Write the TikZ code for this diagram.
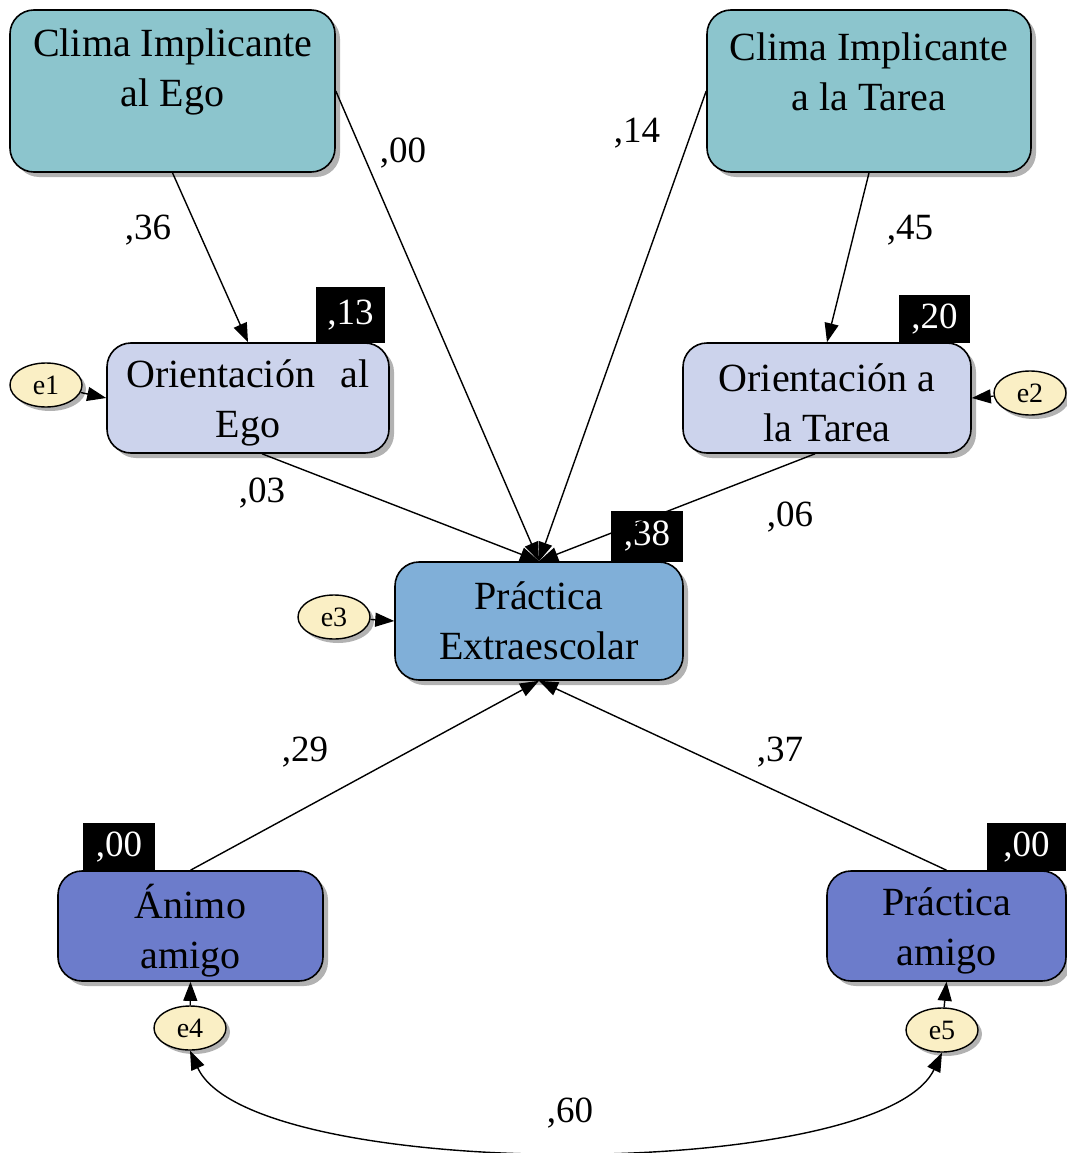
\documentclass[tikz,border=0pt]{standalone}
\usepackage{fontspec}
\setmainfont{Liberation Serif}
\usetikzlibrary{arrows.meta,shadows,calc,shapes.geometric}
\definecolor{clima}{HTML}{8CC5CD}
\definecolor{orient}{HTML}{CCD3EC}
\definecolor{pract}{HTML}{80AFD8}
\definecolor{amigo}{HTML}{6C7CCB}
\definecolor{errc}{HTML}{FAEFC5}
\tikzset{
  box/.style={draw=black, line width=1.6pt, rounded corners=24pt, inner sep=0pt,
    drop shadow={shadow xshift=5pt, shadow yshift=-5pt, fill=black!30, opacity=1}},
  txt/.style={align=center, inner sep=0pt, font=\fontsize{40}{50}\selectfont},
  coef/.style={inner sep=0pt, font=\fontsize{37}{40}\selectfont},
  r2/.style={fill=black, text=white, inner sep=0pt, font=\fontsize{37}{40}\selectfont},
  err/.style={draw=black, line width=1.4pt, ellipse, fill=errc, minimum width=72pt, minimum height=44pt, inner sep=0pt,
    font=\fontsize{28}{30}\selectfont,
    drop shadow={shadow xshift=4pt, shadow yshift=-4pt, fill=black!30, opacity=1}},
  tip/.tip={Triangle[length=19pt,width=14pt]},
  path/.style={line width=1.4pt, -tip},
}
\begin{document}
\begin{tikzpicture}[x=1pt,y=-1pt]
\useasboundingbox (0,0) rectangle (1066,1153);
% black R2 boxes (behind boxes)
\node[r2, minimum width=69pt, minimum height=56pt] (r13) at (350.5,315) {,13};
\node[r2, minimum width=71pt, minimum height=48pt] (r20) at (934.5,319) {,20};
\node[r2, minimum width=72pt, minimum height=51pt] (r38) at (647,536.5) {,38};
\node[r2, minimum width=72pt, minimum height=48pt] (r00a) at (119,847) {,00};
\node[r2, minimum width=79pt, minimum height=48pt] (r00b) at (1026.5,847) {,00};
% boxes
\node[box, fill=clima, minimum width=325pt, minimum height=162pt] (CE) at (172.5,91) {};
\node[box, fill=clima, minimum width=324pt, minimum height=162pt] (CT) at (869,91) {};
\node[box, fill=orient, minimum width=282pt, minimum height=110pt] (OE) at (248,398) {};
\node[box, fill=orient, minimum width=288pt, minimum height=110pt] (OT) at (827,398) {};
\node[box, fill=pract, minimum width=288pt, minimum height=118pt] (PE) at (539,621) {};
\node[box, fill=amigo, minimum width=265pt, minimum height=110pt] (AA) at (190.5,926) {};
\node[box, fill=amigo, minimum width=239pt, minimum height=110pt] (PA) at (946.5,926) {};
% box texts
\node[txt] (tCE) at (172.5,72) {Clima Implicante\\al Ego};
\node[txt] (tCT) at (869,72) {Clima Implicante\\a la Tarea};
\node[txt] (tOE) at (248,403) {Orientación\hspace{0.4em} al\\Ego};
\node[txt] (tOT) at (827,403) {Orientación a\\la Tarea};
\node[txt] (tPE) at (539,621) {Práctica\\Extraescolar};
\node[txt] (tAA) at (190.5,931) {Ánimo\\amigo};
\node[txt] (tPA) at (946.5,931) {Práctica\\amigo};
% error terms
\node[err] (e1) at (46,385) {e1};
\node[err] (e2) at (1030,393) {e2};
\node[err] (e3) at (334,617) {e3};
\node[err] (e4) at (190,1028) {e4};
\node[err] (e5) at (942,1030) {e5};
% paths
\draw[path] (CE.south) -- (OE.north);
\draw[path] (CT.south) -- (OT.north);
\draw[path] (CE.east) -- (PE.north);
\draw[path] (CT.west) -- (PE.north);
\draw[path] ([xshift=14pt]OE.south) -- (PE.north);
\draw[path] ([xshift=-12pt]OT.south) -- (PE.north);
\draw[path] (AA.north) -- (PE.south);
\draw[path] (PA.north) -- (PE.south);
\draw[path] (e1) -- (OE.west);
\draw[path] (e2) -- (OT.east);
\draw[path] (e3) -- (PE.west);
\draw[path] (e4) -- (AA.south);
\draw[path] (e5) -- (PA.south);
\draw[line width=1.4pt, tip-tip]
  (e4.south) .. controls (250,1183) and (880,1183) .. (e5.south);
% coefficients
\node[coef] (c36) at (148,230) {,36};
\node[coef] (c00) at (403,153) {,00};
\node[coef] (c14) at (637,133) {,14};
\node[coef] (c45) at (910,230) {,45};
\node[coef] (c03) at (262,493) {,03};
\node[coef] (c06) at (790,517) {,06};
\node[coef] (c29) at (305,752) {,29};
\node[coef] (c37) at (780,752) {,37};
\node[coef] (c60) at (570,1113) {,60};
\end{tikzpicture}
\end{document}
